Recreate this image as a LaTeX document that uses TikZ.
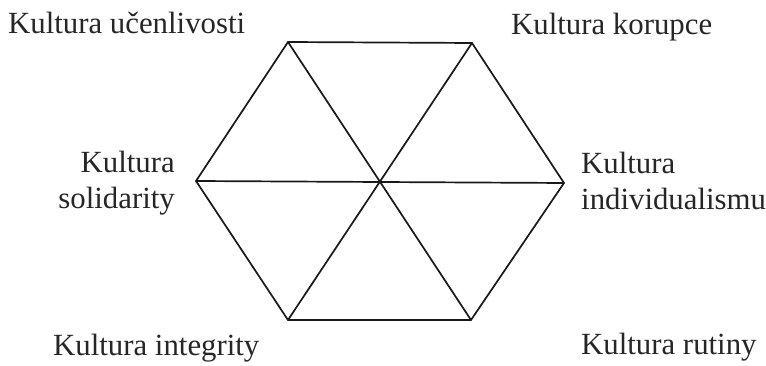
\documentclass[tikz,border=0pt]{standalone}
\usepackage{fontspec}
\setmainfont{Liberation Serif}
\begin{document}
\begin{tikzpicture}[x=1pt,y=1pt,
  edge/.style={line width=1.7pt, line join=miter, draw=black!90},
  lab/.style={inner sep=0pt, font=\fontsize{30.8}{36}\selectfont, text=black!85}]
\useasboundingbox (0,0) rectangle (766,366);
% hexagon vertices
\coordinate (tl) at (288,324);
\coordinate (tr) at (472,323);
\coordinate (r)  at (564,183);
\coordinate (br) at (471,46);
\coordinate (bl) at (288,46);
\coordinate (l)  at (196,185);
% hexagon and diagonals
\draw[edge] (tl) -- (tr) -- (r) -- (br) -- (bl) -- (l) -- cycle;
\draw[edge] (tl) -- (br);
\draw[edge] (tr) -- (bl);
\draw[edge] (l) -- (r);
% labels
\node[lab, anchor=base west] (ucen) at (8,332) {Kultura učenlivosti};
\node[lab, anchor=base west] (koru) at (511,331) {Kultura korupce};
\node[lab, anchor=east, align=right] (soli) at (175,183) {Kultura\\solidarity};
\node[lab, anchor=west, align=left] (indi) at (581,185) {Kultura\\individualismu};
\node[lab, anchor=base west] (inte) at (53,10) {Kultura integrity};
\node[lab, anchor=base west] (ruti) at (581,11) {Kultura rutiny};
\end{tikzpicture}
\end{document}
